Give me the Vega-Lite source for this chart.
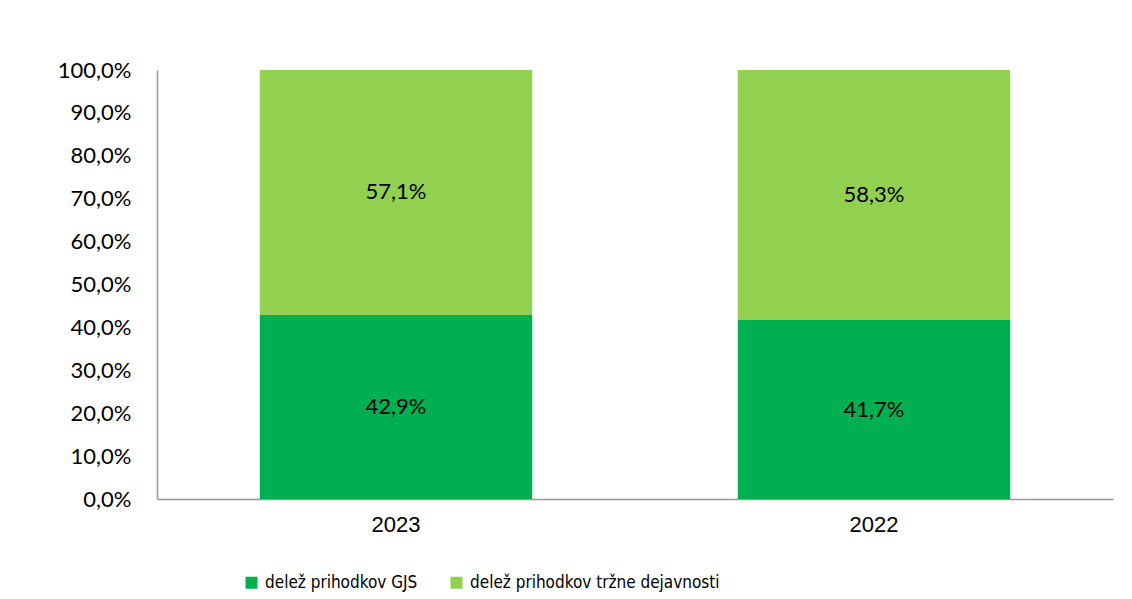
{
  "$schema": "https://vega.github.io/schema/vega-lite/v6.json",
  "width": 956,
  "height": 429,
  "autosize": {"type": "none"},
  "padding": {"left": 157, "top": 70, "right": 19, "bottom": 100},
  "background": "#ffffff",
  "config": {
    "locale": {"number": {"decimal": ",", "thousands": ".", "grouping": [3], "currency": ["", " €"]}},
    "view": {"stroke": null},
    "axis": {"grid": false, "ticks": false, "domainColor": "#999999", "domainWidth": 1.5, "labelColor": "#000000", "title": null}
  },
  "data": {
    "values": [
      {"year": "2023", "series": "delež prihodkov GJS", "v": 0.429},
      {"year": "2023", "series": "delež prihodkov tržne dejavnosti", "v": 0.571},
      {"year": "2022", "series": "delež prihodkov GJS", "v": 0.417},
      {"year": "2022", "series": "delež prihodkov tržne dejavnosti", "v": 0.583}
    ]
  },
  "transform": [
    {"stack": "v", "groupby": ["year"], "sort": [{"field": "series"}], "as": ["v0", "v1"]},
    {"calculate": "(datum.v0 + datum.v1) / 2", "as": "vmid"}
  ],
  "encoding": {
    "x": {
      "field": "year", "type": "nominal", "sort": ["2023", "2022"],
      "scale": {"paddingInner": 0.43, "paddingOuter": 0.215},
      "axis": {"labelAngle": 0, "labelFont": "Liberation Sans", "labelFontSize": 22, "labelPadding": 15}
    }
  },
  "layer": [
    {
      "mark": {"type": "bar"},
      "encoding": {
        "y": {
          "field": "v0", "type": "quantitative",
          "scale": {"domain": [0, 1], "nice": false},
          "axis": {"values": [0, 0.1, 0.2, 0.3, 0.4, 0.5, 0.6, 0.7, 0.8, 0.9, 1], "format": ".1%", "labelFont": "Lato", "labelFontSize": 22, "labelPadding": 26}
        },
        "y2": {"field": "v1"},
        "color": {
          "field": "series", "type": "nominal",
          "scale": {"domain": ["delež prihodkov GJS", "delež prihodkov tržne dejavnosti"], "range": ["#00B050", "#92D050"]},
          "legend": {
            "title": null, "orient": "none", "direction": "horizontal",
            "legendX": 86, "legendY": 504,
            "symbolType": "square", "symbolSize": 144, "symbolStrokeWidth": 0, "symbolOffset": 0,
            "labelFont": "DejaVu Sans Condensed", "labelFontSize": 17, "labelColor": "#000000",
            "labelOffset": 5, "columnPadding": 30, "padding": 0, "labelLimit": 400
          }
        }
      }
    },
    {
      "mark": {"type": "text", "font": "Lato", "fontSize": 22, "color": "#000000"},
      "encoding": {
        "y": {"field": "vmid", "type": "quantitative"},
        "text": {"field": "v", "type": "quantitative", "format": ".1%"}
      }
    }
  ]
}
